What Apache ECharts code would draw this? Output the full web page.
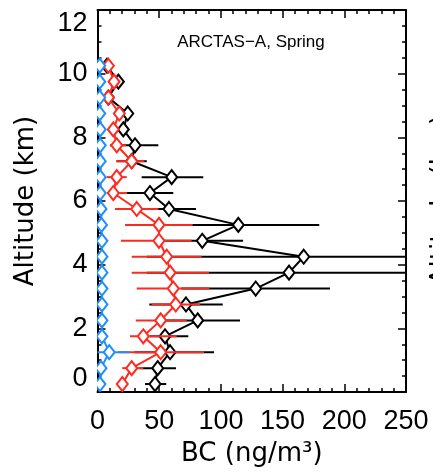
<!DOCTYPE html>
<html><head><meta charset="utf-8">
<script src="https://cdn.jsdelivr.net/npm/echarts@6/dist/echarts.min.js"></script>
<style>html,body{margin:0;padding:0;background:#fff}#c{width:433px;height:472px}</style>
</head><body><div id="c"></div>
<script>
// Altitude bins (km)
var altitudes = [0.25,0.75,1.25,1.75,2.25,2.75,3.25,3.75,4.25,4.75,5.25,5.75,6.25,6.75,7.25,7.75,8.25,8.75,9.25,9.75,10.25];
// Black: observations
var blackMean = [46.6,48.8,58.8,54.7,81.2,71.7,128.2,155.2,167.1,84.9,114.1,57.9,42.5,60.1,27.7,30.4,20.9,24.5,8.8,16.9,7.7];
var blackLo   = [38.5,33.9,30,42.5,48,42,68,40,40,50,45,35.8,22.3,35.8,15.6,10.1,18.2,22,6,14,6];
var blackHi   = [55.7,63.6,94.4,73.6,115.5,101.5,188.4,280,280,118,179.7,79.8,61.4,85.7,39.9,49.3,25,29,11,19.5,9.5];
// Red: model
var redMean = [20.1,27.7,51.2,37.1,51.2,63.4,61.4,58.8,56.1,49.8,49.8,31.8,12.8,15.6,27.7,15.6,12.8,17.7,8.8,13.4,8.8];
var redLo   = [17,20.1,16.9,26.3,31,43.9,31.8,27.7,27.7,19,22.3,14.2,7.9,7.4,15,10.1,10,14.5,6.5,11,7];
var redHi   = [23,37.1,86.3,64.2,72.3,83.1,90.6,90.4,84.4,76.3,77.1,49.3,24.1,23.7,38,23.1,15.5,21,11,16,10.5];
// Blue
var blueMean = [2.0,2.8,9.5,3.6,3.6,3.6,3.6,3.6,3.6,3.6,3.2,2.8,2.2,2.2,2.2,2.2,2.2,1.8,1.8,1.8,1.8];
var blueLo   = [0,0.5,0,1.5,1.5,1.5,1.5,1.5,1.5,1.5,1,0.8,0.5,0.5,0.5,0.5,0.5,0.5,0.5,0.5,0.5];
var blueHi   = [3.5,5,26,6,6,6,6,6,6,6,5.5,5,4,4,4,4,4,3,3,3,3];
var xTicks = [0,50,100,150,200,250];
var yTicks = [0,2,4,6,8,10,12];

var FONT = 'Liberation Sans';
var NAMEFONT = 'DejaVu Sans';
function pts(m){ return altitudes.map(function(a,i){ return [m[i], a]; }); }
function bars(lo,hi){ return altitudes.map(function(a,i){ return [lo[i], hi[i], a]; }); }
function errSeries(lo,hi,color,z){
  return {type:'custom', z:z, clip:true, data:bars(lo,hi), encode:{x:[0,1], y:2},
    renderItem:function(params, api){
      var p1 = api.coord([api.value(0), api.value(2)]);
      var p2 = api.coord([api.value(1), api.value(2)]);
      return {type:'line', shape:{x1:p1[0], y1:p1[1], x2:p2[0], y2:p2[1]}, style:{stroke:color, lineWidth:2}};
    }};
}
function lineSeries(m,color,z,sym){
  return {type:'line', z:z, data:pts(m), symbol:sym?'diamond':'none', symbolSize:[11,14], showSymbol:!!sym,
    lineStyle:{color:color, width:2}, itemStyle:{color:'#fff', borderColor:color, borderWidth:2},
    animation:false, clip:true};
}
function markerSeries(m,color,z){
  return {type:'custom', z:z, clip:true, data:pts(m), encode:{x:0, y:1},
    renderItem:function(params, api){
      var c = api.coord([api.value(0), api.value(1)]);
      var w = 5.5, h = 7;
      return {type:'polygon', shape:{points:[[c[0],c[1]-h],[c[0]+w,c[1]],[c[0],c[1]+h],[c[0]-w,c[1]]]},
        style:{fill:'#fff', stroke:color, lineWidth:2}};
    }};
}
var axisBase = {
  axisLine:{show:true, onZero:false, lineStyle:{color:'#000', width:2}},
  splitLine:{show:false}
};
var chart = echarts.init(document.getElementById('c'), null, {renderer:'canvas'});
chart.setOption({
  animation:false,
  grid:{left:97.5, right:27, top:10, bottom:79.3, containLabel:false},
  title:{text:'ARCTAS\u2212A, Spring', left:246, top:29, textAlign:'center',
    textStyle:{fontFamily:FONT, fontSize:17, fontWeight:'normal', color:'#000'}},
  graphic:[{type:'text', x:442, y:200, rotation:Math.PI/2, silent:true,
    style:{text:'Altitude (km)', font:'26px "DejaVu Sans"', fill:'#000', align:'center', verticalAlign:'middle'}}],
  xAxis:[
    Object.assign({type:'value', min:0, max:250, interval:50, position:'bottom',
      axisTick:{show:true, inside:true, length:8, lineStyle:{color:'#000', width:1.5}},
      minorTick:{show:true, splitNumber:5, length:4, lineStyle:{color:'#000', width:1.5}},
      axisLabel:{show:true, margin:16, fontFamily:FONT, fontSize:27, color:'#000',
        customValues:xTicks},
      name:'BC (ng/m\u00b3)', nameLocation:'middle', nameGap:49,
      nameTextStyle:{fontFamily:NAMEFONT, fontSize:26, color:'#000'}}, axisBase),
    Object.assign({type:'value', min:0, max:250, interval:50, position:'top',
      axisTick:{show:true, inside:true, length:8, lineStyle:{color:'#000', width:1.5}},
      minorTick:{show:true, splitNumber:5, length:4, lineStyle:{color:'#000', width:1.5}},
      axisLabel:{show:false}}, axisBase)
  ],
  yAxis:[
    Object.assign({type:'value', min:0, max:12, interval:2, position:'left',
      axisTick:{show:true, inside:true, length:8, lineStyle:{color:'#000', width:1.5}},
      minorTick:{show:true, splitNumber:4, length:4, lineStyle:{color:'#000', width:1.5}},
      axisLabel:{show:true, margin:10, fontFamily:FONT, fontSize:27, color:'#000',
        customValues:yTicks, verticalAlignMinLabel:'bottom', verticalAlignMaxLabel:'top'},
      name:'Altitude (km)', nameLocation:'middle', nameGap:58, nameRotate:90,
      nameTextStyle:{fontFamily:NAMEFONT, fontSize:26, color:'#000'}}, axisBase),
    Object.assign({type:'value', min:0, max:12, interval:2, position:'right',
      axisTick:{show:true, inside:true, length:8, lineStyle:{color:'#000', width:1.5}},
      minorTick:{show:true, splitNumber:4, length:4, lineStyle:{color:'#000', width:1.5}},
      axisLabel:{show:false}}, axisBase)
  ],
  series:[
    errSeries(blackLo, blackHi, '#000', 2),
    lineSeries(blackMean, '#000', 3, true),
    errSeries(redLo, redHi, '#ff2a1f', 4),
    lineSeries(redMean, '#ff2a1f', 5, true),
    errSeries(blueLo, blueHi, '#1e8fff', 6),
    lineSeries(blueMean, '#1e8fff', 7, false),
    markerSeries(blueMean, '#1e8fff', 8)
  ]
});
</script></body></html>
